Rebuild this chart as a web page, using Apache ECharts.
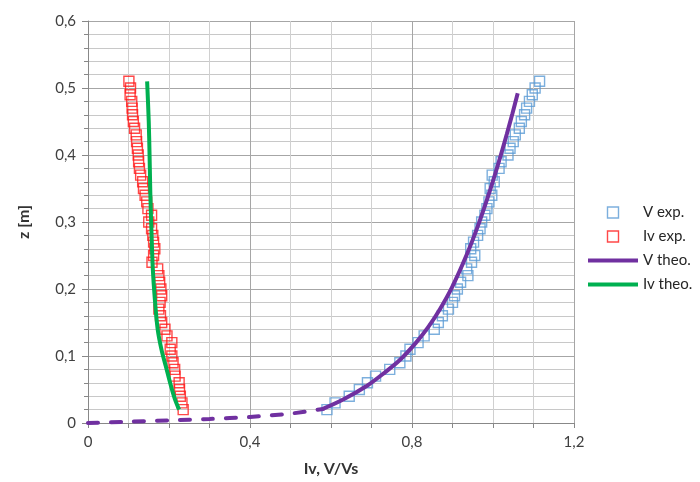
<!DOCTYPE html>
<html>
<head>
<meta charset="utf-8">
<script src="https://cdn.jsdelivr.net/npm/echarts@6/dist/echarts.min.js"></script>
<style>html,body{margin:0;padding:0;background:#fff}#c{width:700px;height:482px}</style>
</head>
<body>
<div id="c"></div>
<script>
// z values [m] for experimental profiles
const zExp = [0.02,0.03,0.04,0.05,0.06,0.07,0.08,0.09,0.10,0.11,0.12,0.13,0.14,0.15,0.16,0.17,0.18,0.19,0.20,0.21,0.22,0.23,0.24,0.25,0.26,0.27,0.28,0.29,0.30,0.31,0.32,0.33,0.34,0.35,0.36,0.37,0.38,0.39,0.40,0.41,0.42,0.43,0.44,0.45,0.46,0.47,0.48,0.49,0.50,0.51];
// V/Vs experimental
const vExp = [0.59,0.61,0.645,0.67,0.69,0.71,0.745,0.77,0.785,0.795,0.815,0.83,0.855,0.865,0.875,0.89,0.90,0.905,0.912,0.92,0.938,0.935,0.947,0.955,0.945,0.952,0.962,0.968,0.972,0.98,0.985,0.99,0.997,0.993,1.003,0.998,1.015,1.02,1.037,1.042,1.05,1.055,1.065,1.07,1.078,1.083,1.09,1.097,1.104,1.115];
// Iv experimental
const ivExp = [0.235,0.232,0.228,0.226,0.225,0.215,0.214,0.21,0.207,0.203,0.207,0.195,0.19,0.182,0.179,0.175,0.178,0.182,0.18,0.177,0.175,0.172,0.158,0.162,0.165,0.162,0.16,0.157,0.15,0.157,0.148,0.145,0.141,0.137,0.135,0.13,0.127,0.125,0.124,0.122,0.12,0.119,0.115,0.112,0.11,0.109,0.108,0.104,0.105,0.101];
// V theo (dashed extension near bed)
const vTheoExtX = [0,0.1,0.2,0.3,0.4,0.5,0.58];
const vTheoExtZ = [0,0.002,0.004,0.006,0.009,0.014,0.021];
// V theo (solid)
const vTheoX = [0.58,0.63,0.69,0.73,0.77,0.81,0.84,0.87,0.90,0.935,0.965,0.993,1.015,1.034,1.048,1.061];
const vTheoZ = [0.021,0.035,0.056,0.074,0.094,0.12,0.143,0.171,0.204,0.251,0.298,0.348,0.391,0.431,0.462,0.492];
// Iv theo
const ivTheoX = [0.146,0.150,0.152,0.154,0.157,0.160,0.165,0.172,0.182,0.192,0.205,0.215,0.225];
const ivTheoZ = [0.51,0.45,0.40,0.34,0.28,0.23,0.185,0.14,0.108,0.085,0.055,0.035,0.02];

const xTicks = {min:0, max:1.2, interval:0.4};
const yTicks = {min:0, max:0.6, interval:0.1};

const pair = (xs, ys) => xs.map((x,i)=>[x, ys[i]]);
const fmt = v => String(+v.toFixed(2)).replace('.', ',');
const FONT = 'Lato';
const C = {vExp:'#5b9bd5', ivExp:'#ff1a1a', vTheo:'#7030a0', ivTheo:'#00b050'};
const LINE_ICON = 'path://M0,0H50V4H0Z';
const SQUARE_ICON = 'path://M0,0H10V10H0Z';

const chart = echarts.init(document.getElementById('c'), null, {renderer:'canvas'});
chart.setOption({
  animation:false,
  backgroundColor:'#fff',
  textStyle:{fontFamily:FONT},
  grid:{left:88, right:126, top:21, bottom:58},
  legend:{
    orient:'vertical', left:583, top:200, itemWidth:50, itemHeight:11, itemGap:9,
    symbolKeepAspect:true,
    data:[
      {name:'V exp.', icon:SQUARE_ICON, itemStyle:{color:'rgba(0,0,0,0)', borderColor:C.vExp, borderWidth:1.4}},
      {name:'Iv exp.', icon:SQUARE_ICON, itemStyle:{color:'rgba(0,0,0,0)', borderColor:C.ivExp, borderWidth:1.4}},
      {name:'V theo.', icon:LINE_ICON, itemStyle:{color:C.vTheo, borderWidth:0}},
      {name:'Iv theo.', icon:LINE_ICON, itemStyle:{color:C.ivTheo, borderWidth:0}}
    ],
    textStyle:{fontFamily:FONT, fontSize:15, color:'#262626'}
  },
  xAxis:{
    type:'value', min:xTicks.min, max:xTicks.max, interval:xTicks.interval,
    name:'Iv, V/Vs', nameLocation:'middle', nameGap:38,
    nameTextStyle:{fontFamily:FONT, fontWeight:'bold', fontSize:16, color:'#333'},
    axisLine:{show:true, onZero:false, lineStyle:{color:'#888', width:1}},
    axisTick:{show:true, length:5, lineStyle:{color:'#888'}},
    minorTick:{show:true, splitNumber:4, length:5, lineStyle:{color:'#888'}},
    axisLabel:{formatter:fmt, fontFamily:FONT, fontSize:15, color:'#404040', margin:12},
    splitLine:{show:true, lineStyle:{color:'#a6a6a6', width:1}},
    minorSplitLine:{show:true, lineStyle:{color:'#d0d0d0', width:1}}
  },
  yAxis:{
    type:'value', min:yTicks.min, max:yTicks.max, interval:yTicks.interval,
    name:'z [m]', nameLocation:'middle', nameGap:56, nameRotate:90,
    nameTextStyle:{fontFamily:FONT, fontWeight:'bold', fontSize:16, color:'#333'},
    axisLine:{show:true, onZero:false, lineStyle:{color:'#888', width:1}},
    axisTick:{show:true, length:6, lineStyle:{color:'#888'}},
    minorTick:{show:true, splitNumber:5, length:4, lineStyle:{color:'#888'}},
    axisLabel:{formatter:fmt, fontFamily:FONT, fontSize:15, color:'#404040', margin:12},
    splitLine:{show:true, lineStyle:{color:'#a6a6a6', width:1}},
    minorSplitLine:{show:true, lineStyle:{color:'#c8c8c8', width:1}}
  },
  series:[
    {name:'V exp.', type:'scatter', symbol:'rect', symbolSize:10,
     itemStyle:{color:'rgba(0,0,0,0)', borderColor:C.vExp, borderWidth:1.4},
     data:pair(vExp, zExp)},
    {name:'Iv exp.', type:'scatter', symbol:'rect', symbolSize:10,
     itemStyle:{color:'rgba(0,0,0,0)', borderColor:C.ivExp, borderWidth:1.4},
     data:pair(ivExp, zExp)},
    {name:'V theo. ext', type:'line', symbol:'none', smooth:0.3,
     lineStyle:{color:C.vTheo, width:4, type:[10,13], cap:'round'},
     itemStyle:{color:C.vTheo},
     data:pair(vTheoExtX, vTheoExtZ)},
    {name:'V theo.', type:'line', symbol:'none', smooth:0.3,
     lineStyle:{color:C.vTheo, width:4},
     itemStyle:{color:C.vTheo},
     data:pair(vTheoX, vTheoZ)},
    {name:'Iv theo.', type:'line', symbol:'none', smooth:0.3,
     lineStyle:{color:C.ivTheo, width:4},
     itemStyle:{color:C.ivTheo},
     data:pair(ivTheoX, ivTheoZ)}
  ]
});
</script>
</body>
</html>
